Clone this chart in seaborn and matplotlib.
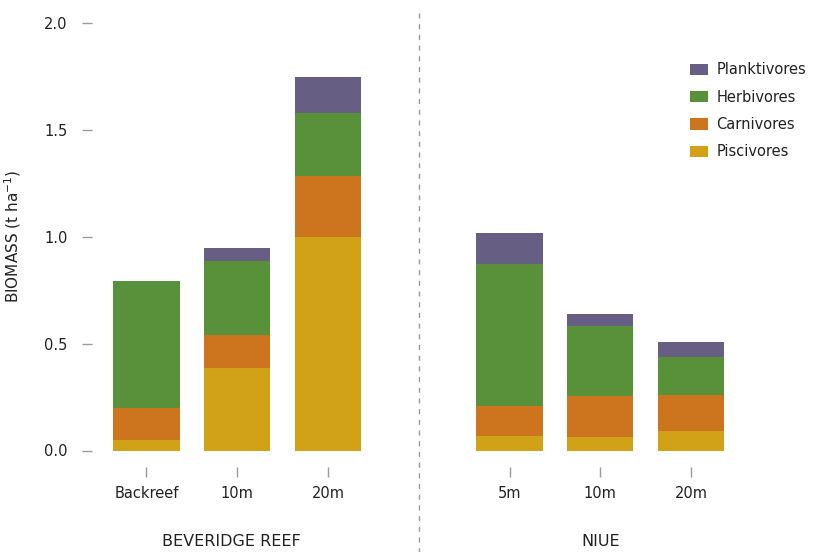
import pandas as pd
import numpy as np
import matplotlib
matplotlib.use("Agg")
import matplotlib.pyplot as plt
import matplotlib.transforms as mtransforms
import seaborn as sns
from matplotlib.patches import Patch

# sites and groups
sites = ['Backreef', '10m', '20m', '5m', '10m', '20m']
positions = [0, 1, 2, 4, 5, 6]
groups = ['BEVERIDGE REEF', 'NIUE']
group_centers = [0.93, 5]

# biomass per trophic group (t/ha)
piscivores = [0.05, 0.386, 1.00, 0.068, 0.063, 0.091]
carnivores = [0.15, 0.155, 0.286, 0.140, 0.192, 0.169]
herbivores = [0.595, 0.347, 0.295, 0.666, 0.328, 0.178]
planktivores = [0.0, 0.06, 0.168, 0.145, 0.056, 0.070]

layers = ['Planktivores', 'Herbivores', 'Carnivores', 'Piscivores']
colors = ['#665e83', '#58913a', '#cc741e', '#d1a118']

rows = []
for name, vals in zip(layers, [planktivores, herbivores, carnivores, piscivores]):
    for p, v in zip(positions, vals):
        rows.append({'pos': p, 'group': name, 'biomass': v})
df = pd.DataFrame(rows)

sns.set_style('white')
plt.rcParams['font.family'] = ['DejaVu Sans']
text_col = '#222222'
tick_col = '#9a9a9a'

fig = plt.figure(figsize=(8.17, 5.52), dpi=100)
ax = fig.add_axes([92 / 817, (552 - 450.5) / 552, (800 - 92) / 817, 427.5 / 552])

sns.histplot(data=df, x='pos', weights='biomass', hue='group', hue_order=layers,
             palette=colors, multiple='stack', discrete=True, shrink=0.73,
             alpha=1, linewidth=0, edgecolor='none', legend=False, ax=ax)

ax.set_xlim(-0.6, 7.2)
ax.set_ylim(0, 2.0)
for s in ax.spines.values():
    s.set_visible(False)

ax.set_yticks([0, 0.5, 1.0, 1.5, 2.0])
ax.set_yticklabels(['0.0', '0.5', '1.0', '1.5', '2.0'])
ax.set_xticks(positions)
ax.set_xticklabels(sites)
ax.spines['bottom'].set_position(('outward', 12))
ax.tick_params(axis='y', left=True, length=7.5, width=1, color=tick_col, pad=10,
               labelsize=10.5, labelcolor=text_col)
ax.tick_params(axis='x', bottom=True, length=7.5, width=1, color=tick_col, pad=6,
               labelsize=10.5, labelcolor=text_col, direction='out')
ax.set_xlabel('')
ax.set_ylabel('BIOMASS (t ha$^{\\mathregular{-1}}$)', fontsize=11, color=text_col, labelpad=15)

# group labels under the sites
trans = mtransforms.blended_transform_factory(ax.transData, ax.transAxes)
for g, c in zip(groups, group_centers):
    ax.text(c, (450.5 - 541) / 427.5, g, transform=trans, ha='center', va='center',
            fontsize=11.5, color=text_col, clip_on=False)

# dashed divider between the two locations
ax.plot([3, 3], [(450.5 - 13) / 427.5, (450.5 - 556) / 427.5], transform=trans,
        color='#999999', linestyle=(0, (3.6, 4.1)), linewidth=1, clip_on=False)

handles = [Patch(facecolor=c, edgecolor='none', label=l) for l, c in zip(layers, colors)]
fig.legend(handles=handles, loc='upper left', bbox_to_anchor=(683 / 817, 1 - 55 / 552),
           frameon=False, fontsize=10.5, handlelength=1.2, handleheight=0.8,
           handletextpad=0.6, labelspacing=0.85, borderpad=0, labelcolor=text_col)

fig.savefig('out.png', dpi=100)
